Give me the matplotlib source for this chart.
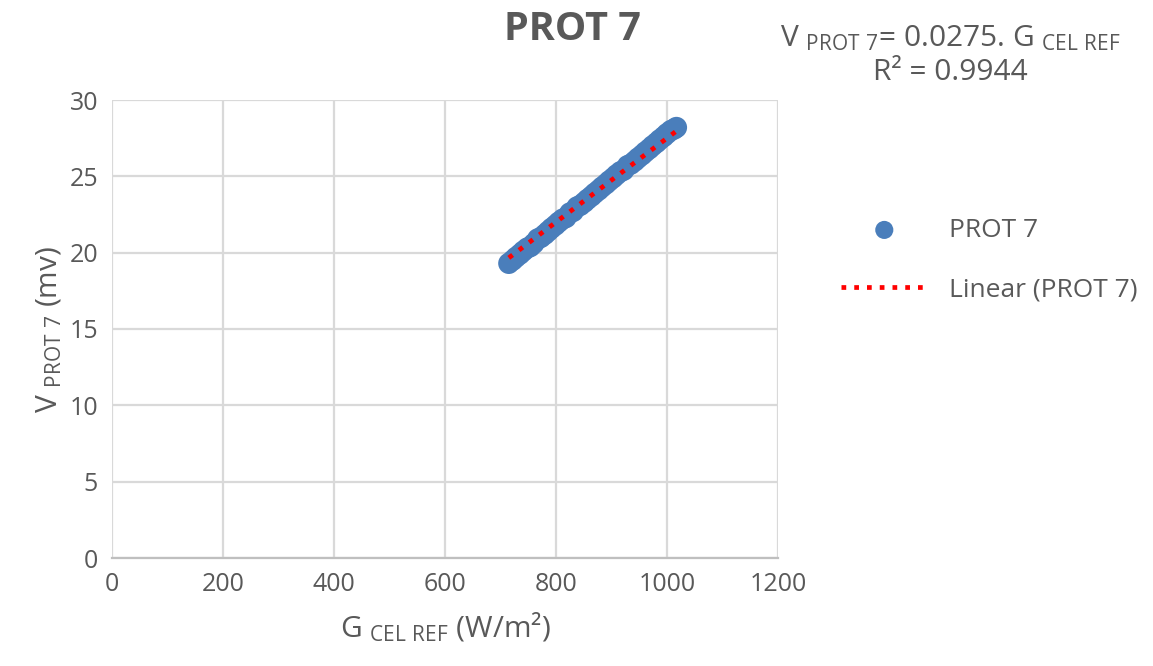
import numpy as np
import matplotlib.pyplot as plt

plt.rcParams['font.family'] = ['Open Sans', 'DejaVu Sans']
plt.rcParams['mathtext.fontset'] = 'custom'
plt.rcParams['mathtext.rm'] = 'Open Sans'
plt.rcParams['mathtext.it'] = 'Open Sans'

# data
g_cel_ref = [715, 722, 728, 735, 741, 748, 754, 760, 767, 773, 780, 786,
             792, 799, 805, 812, 818, 825, 831, 838, 844, 851, 857, 864,
             870, 877, 883, 890, 896, 903, 909, 916, 922, 929, 935, 942,
             948, 955, 961, 968, 974, 981, 987, 994, 1000, 1007, 1013, 1017]
v_prot7 = [19.3, 19.5, 19.7, 19.9, 20.1, 20.3, 20.4, 20.6, 20.9, 21.0, 21.2, 21.4,
           21.6, 21.8, 22.0, 22.2, 22.3, 22.6, 22.7, 23.0, 23.1, 23.3, 23.5, 23.7,
           23.9, 24.1, 24.3, 24.5, 24.7, 24.9, 25.1, 25.3, 25.4, 25.7, 25.8, 26.0,
           26.2, 26.4, 26.6, 26.8, 27.0, 27.2, 27.4, 27.6, 27.8, 28.0, 28.1, 28.2]
slope = 0.0275
r2 = 0.9944

grey = '#595959'
blue = '#4A7EBB'

fig = plt.figure(figsize=(11.53, 6.66), dpi=100)
ax = fig.add_axes([112 / 1153, 1 - 558 / 666, 666 / 1153, 458 / 666])

ax.scatter(g_cel_ref, v_prot7, s=235, color=blue, edgecolors='none',
           zorder=3, label='PROT 7')
xs = np.array([min(g_cel_ref), max(g_cel_ref)])
ax.plot(xs, slope * xs, color='#FF0000', linestyle=(0, (1, 1.7)), linewidth=3.4,
        zorder=4, label='Linear (PROT 7)')

ax.set_xlim(0, 1200)
ax.set_ylim(0, 30)
ax.set_xticks(range(0, 1201, 200))
ax.set_yticks(range(0, 31, 5))
ax.grid(True, color='#D9D9D9', linewidth=1.6)
ax.set_axisbelow(True)
for s in ['top', 'right', 'left']:
    ax.spines[s].set_visible(False)
ax.spines['bottom'].set_color('#BFBFBF')
ax.spines['bottom'].set_linewidth(1.6)
ax.tick_params(length=0, labelsize=18, labelcolor=grey, pad=10)

ax.set_xlabel(r'G $\mathregular{_{CEL\ REF}}$ (W/m²)', fontsize=21.5, color=grey, labelpad=10)
ax.set_ylabel(r'V $\mathregular{_{PROT\ 7}}$ (mv)', fontsize=21.5, color=grey, labelpad=4)

fig.text(572 / 1153, 1 - 30 / 666, 'PROT 7', ha='center', va='center',
         fontsize=28.5, fontweight='bold', color=grey)
fig.text(950 / 1153, 1 - 38 / 666,
         r'V $\mathregular{_{PROT\ 7}}$= 0.0275. G $\mathregular{_{CEL\ REF}}$',
         ha='center', va='center', fontsize=21.5, color=grey)
fig.text(950 / 1153, 1 - 73 / 666, f'R² = {r2}', ha='center', va='center',
         fontsize=21.5, color=grey)

fig.legend(loc='center left', bbox_to_anchor=(817 / 1153, 1 - 260 / 666),
           frameon=False, fontsize=19, labelcolor=grey, handlelength=3.3,
           handletextpad=0.8, labelspacing=1.3, markerscale=0.85)

fig.savefig('out.png', dpi=100, facecolor='white')
